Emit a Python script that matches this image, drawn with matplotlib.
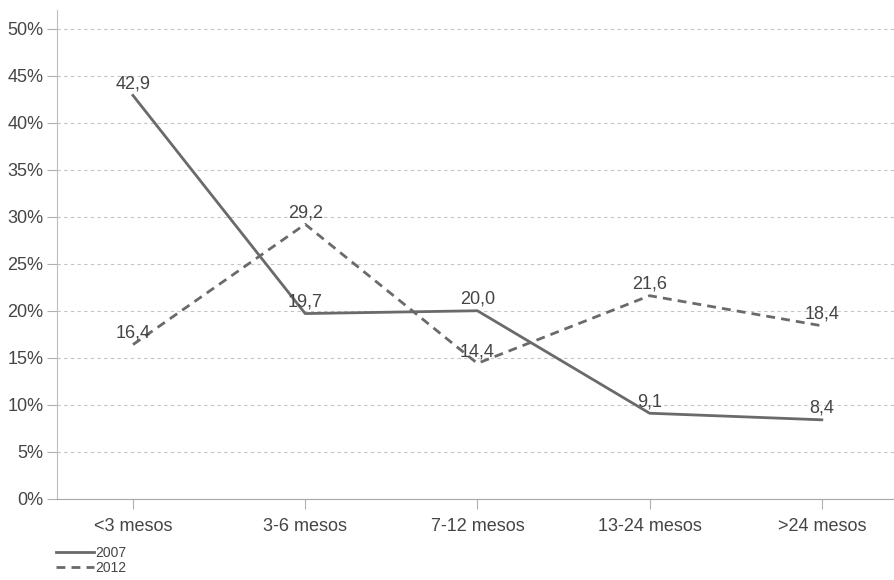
import matplotlib.pyplot as plt
from matplotlib.ticker import FuncFormatter

# data
categorias = ["<3 mesos", "3-6 mesos", "7-12 mesos", "13-24 mesos", ">24 mesos"]
valores_2007 = [42.9, 19.7, 20.0, 9.1, 8.4]
valores_2012 = [16.4, 29.2, 14.4, 21.6, 18.4]
etiquetas_2007 = ["42,9", "19,7", "20,0", "9,1", "8,4"]
etiquetas_2012 = ["16,4", "29,2", "14,4", "21,6", "18,4"]

plt.rcParams['font.family'] = ['Liberation Sans', 'DejaVu Sans']
texto = '#454545'
linia = '#6a6a6a'

fig = plt.figure(figsize=(8.94, 5.8), dpi=100)
ax = fig.add_axes([0.064, 0.14, 0.94, 0.843])

x = list(range(len(categorias)))
l1, = ax.plot(x, valores_2007, color=linia, lw=2.0, label="2007")
l2, = ax.plot(x, valores_2012, color=linia, lw=2.0, ls=(0, (3.2, 2.2)), label="2012")

for xi, v, t in zip(x, valores_2007, etiquetas_2007):
    ax.text(xi, v + 0.3, t, ha='center', va='bottom', fontsize=13, color=texto)
for xi, v, t in zip(x, valores_2012, etiquetas_2012):
    ax.text(xi, v + 0.3, t, ha='center', va='bottom', fontsize=13, color=texto)

ax.set_xlim(-0.44, 4.44)
ax.set_ylim(0, 52)
ax.set_yticks(range(0, 51, 5))
ax.yaxis.set_major_formatter(FuncFormatter(lambda v, p: f"{int(v)}%"))
ax.set_xticks(x)
ax.set_xticklabels(categorias)
ax.tick_params(axis='both', labelsize=13, labelcolor=texto, colors='#b0b0b0')
ax.tick_params(axis='y', length=7, width=0.8, pad=3)
ax.tick_params(axis='x', length=7, width=0.8, pad=7)

ax.grid(axis='y', color='#c4c4c4', ls=(0, (3, 3)), lw=0.8)
ax.set_axisbelow(True)
for s in ['top', 'right']:
    ax.spines[s].set_visible(False)
ax.spines['left'].set_color('#bdbdbd')
ax.spines['bottom'].set_color('#a8a8a8')

fig.legend(handles=[l1, l2], loc='lower left', bbox_to_anchor=(0.052, -0.008),
           frameon=False, fontsize=10, labelcolor=texto, handlelength=2.7,
           handletextpad=0.1, labelspacing=0.1, borderpad=0.2)

fig.savefig("out.png", dpi=100)
